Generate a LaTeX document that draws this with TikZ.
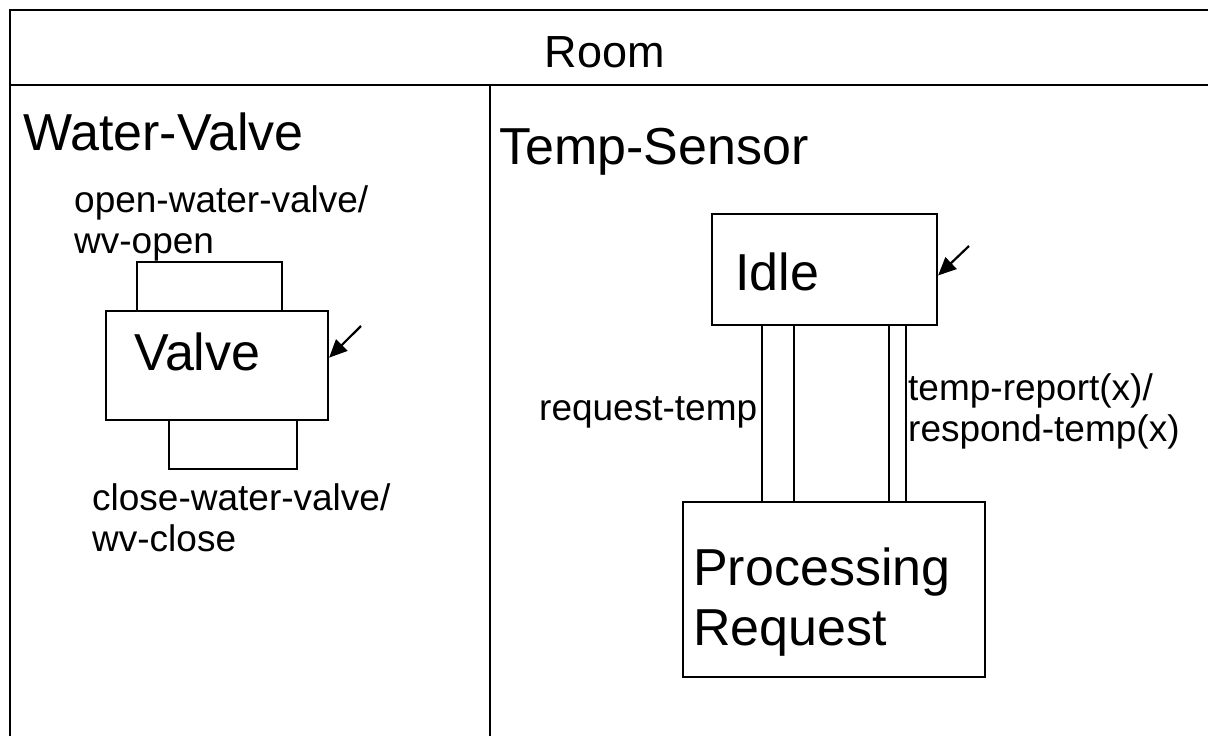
\documentclass[tikz,border=0pt]{standalone}
\usepackage{fontspec}
\setmainfont{Liberation Sans}
\usetikzlibrary{arrows.meta}
\begin{document}
\begin{tikzpicture}[x=1pt,y=-1pt]
	% Styles
	\tikzstyle{cadre}=[line width=2.4pt]
	\tikzstyle{etat}=[draw,rectangle,line width=2.2pt,inner sep=0pt]
	\tikzstyle{fleche}=[-{Triangle[length=18pt,width=16pt]},line width=2.2pt]
	\tikzstyle{titre}=[inner sep=0pt,anchor=base,font=\fontsize{45}{50}\selectfont]
	\tikzstyle{composant}=[inner sep=0pt,anchor=base west,font=\fontsize{52}{58}\selectfont]
	\tikzstyle{nom}=[inner sep=0pt,anchor=base west,align=left,font=\fontsize{52}{60}\selectfont]
	\tikzstyle{etiquette}=[inner sep=0pt,anchor=base west,align=left,font=\fontsize{37}{41}\selectfont]
	% Dimensions
	\def\Largeur{1208}
	\def\Hauteur{736}
	\def\Bandeau{85}
	\def\Separation{490}
	\useasboundingbox (0,0) rectangle (\Largeur,\Hauteur);
	% Cadre
	\draw[cadre] (\Largeur,10) -- (10,10) -- (10,\Hauteur);
	\draw[cadre] (10,\Bandeau) -- (\Largeur,\Bandeau);
	\draw[cadre] (\Separation,\Bandeau) -- (\Separation,\Hauteur);
	% Titres
	\node[titre] (Room) at (605,67) {Room};
	\node[composant] (WV) at (23,150) {Water-Valve};
	\node[composant] (TS) at (499,164) {Temp-Sensor};
	% Etats
	\node[etat,minimum width=222pt,minimum height=109pt] (Valve) at (217,365.5) {};
	\node[etat,minimum width=145pt,minimum height=49pt] (Ouvrir) at (209.5,286.5) {};
	\node[etat,minimum width=128pt,minimum height=49pt] (Fermer) at (233,444.5) {};
	\node[etat,minimum width=225pt,minimum height=111pt] (Idle) at (824.5,269.5) {};
	\node[etat,minimum width=302pt,minimum height=175pt] (Traitement) at (834,589.5) {};
	\node[etat,minimum width=32pt,minimum height=177pt] (Requete) at (778,413.5) {};
	\node[etat,minimum width=17pt,minimum height=177pt] (Reponse) at (897.5,413.5) {};
	% Textes (base = derniere ligne)
	\node[nom] (tValve) at (134,370) {Valve};
	\node[nom] (tIdle) at (735,290) {Idle};
	\node[nom] (tTraitement) at (693,645) {Processing\\Request};
	\node[etiquette] (eOuvrir) at (74,253) {open-water-valve/\\wv-open};
	\node[etiquette] (eFermer) at (92,551) {close-water-valve/\\wv-close};
	\node[etiquette] (eRequete) at (539,420) {request-temp};
	\node[etiquette] (eReponse) at (908,441) {temp-report(x)/\\respond-temp(x)};
	% Etats initiaux
	\coordinate (dValve) at (361,326);
	\coordinate (dIdle) at (969,246);
	\draw[fleche] (dValve) -- (Valve.4.4);
	\draw[fleche] (dIdle) -- (Idle.-3.8);
\end{tikzpicture}
\end{document}
